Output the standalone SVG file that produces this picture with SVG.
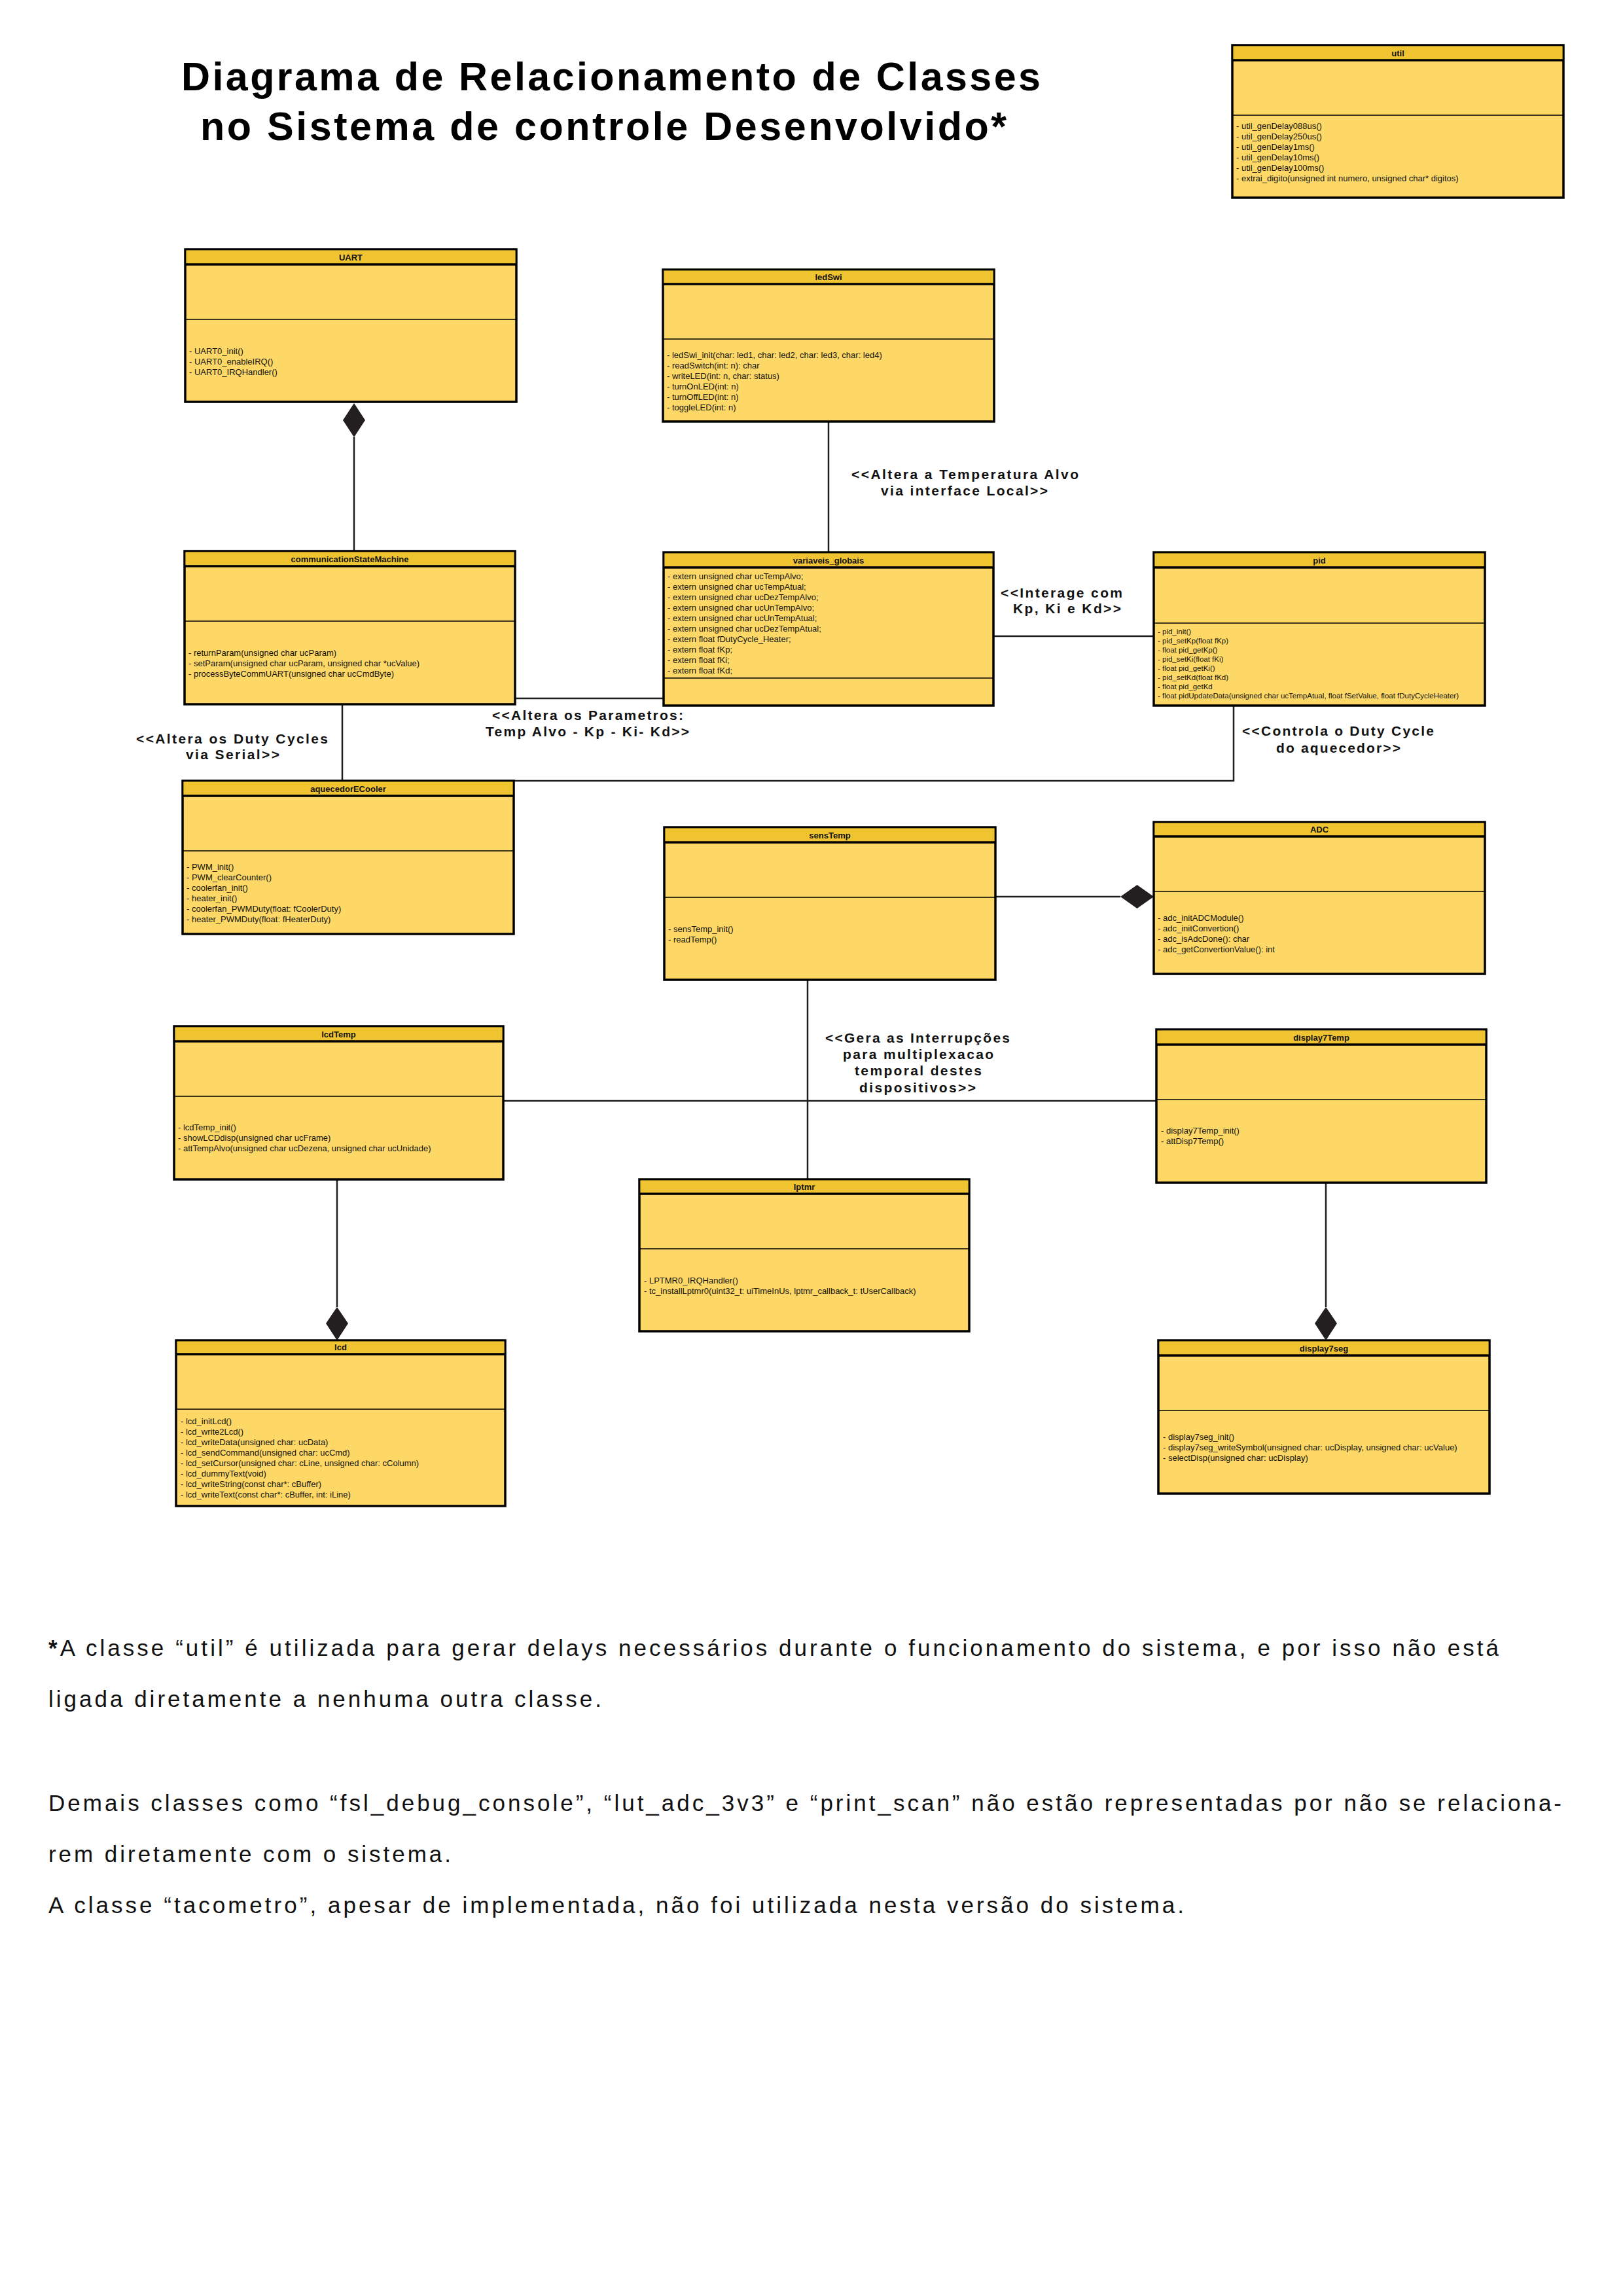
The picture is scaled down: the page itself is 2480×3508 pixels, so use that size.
<svg xmlns="http://www.w3.org/2000/svg" width="2480" height="3508" viewBox="0 0 2480 3508">
<style>
.box{fill:#FDD866;stroke:#000;stroke-width:3.5}
.hdr{fill:#F0C330}
.hl{stroke:#000;stroke-width:3.5}
.dv{stroke:#000;stroke-width:1.6}
.ttl{font-family:"Liberation Sans",Arial,sans-serif;font-size:13px;font-weight:bold;text-anchor:middle;fill:#111}
.m{font-family:"Liberation Sans",Arial,sans-serif;font-size:13px;fill:#111}
.ms{font-family:"Liberation Sans",Arial,sans-serif;font-size:11.5px;fill:#111}
.lbl{font-family:"Liberation Sans",Arial,sans-serif;font-size:21px;font-weight:bold;fill:#111}
.title{font-family:"Liberation Sans",Arial,sans-serif;font-size:61px;font-weight:bold;fill:#000}
.foot{font-family:"Liberation Sans",Arial,sans-serif;font-size:35px;fill:#111}
.c{fill:none;stroke:#1e1e1e;stroke-width:2.5}
.dia{fill:#231f20}
</style>
<rect width="2480" height="3508" fill="#fff"/>

<g id="title">
<text class="title" x="277" y="138" textLength="1313" lengthAdjust="spacing">Diagrama de Relacionamento de Classes</text>
<text class="title" x="306" y="214" textLength="1232" lengthAdjust="spacing">no Sistema de controle Desenvolvido*</text>
</g>

<g id="connectors">
<line class="c" x1="541" y1="668" x2="541" y2="842"/>
<polygon class="dia" points="541,616 558,642 541,668 524,642"/>
<line class="c" x1="1266" y1="644" x2="1266" y2="844"/>
<line class="c" x1="787" y1="1067" x2="1014" y2="1067"/>
<line class="c" x1="1518" y1="972" x2="1763" y2="972"/>
<line class="c" x1="523" y1="1076" x2="523" y2="1193"/>
<polyline class="c" points="1885,1078 1885,1193 785,1193"/>
<line class="c" x1="1521" y1="1370" x2="1712" y2="1370"/>
<polygon class="dia" points="1712,1370 1737.5,1352 1763,1370 1737.5,1388"/>
<line class="c" x1="769" y1="1682" x2="1767" y2="1682"/>
<line class="c" x1="1234" y1="1497" x2="1234" y2="1802"/>
<line class="c" x1="515" y1="1802" x2="515" y2="1997"/>
<polygon class="dia" points="515,1997 532,2022 515,2048 498,2022"/>
<line class="c" x1="2026" y1="1807" x2="2026" y2="1997"/>
<polygon class="dia" points="2026,1997 2043,2022 2026,2048 2009,2022"/>
</g>

<g id="labels">
<text class="lbl" x="1301" y="732" textLength="347" lengthAdjust="spacing">&lt;&lt;Altera a Temperatura Alvo</text>
<text class="lbl" x="1346" y="757" textLength="255" lengthAdjust="spacing">via interface Local&gt;&gt;</text>
<text class="lbl" x="1529" y="913" textLength="186" lengthAdjust="spacing">&lt;&lt;Interage com</text>
<text class="lbl" x="1548" y="937" textLength="165" lengthAdjust="spacing">Kp, Ki e Kd&gt;&gt;</text>
<text class="lbl" x="752" y="1100" textLength="292" lengthAdjust="spacing">&lt;&lt;Altera os Parametros:</text>
<text class="lbl" x="742" y="1125" textLength="311" lengthAdjust="spacing">Temp Alvo - Kp - Ki- Kd&gt;&gt;</text>
<text class="lbl" x="208" y="1136" textLength="293" lengthAdjust="spacing">&lt;&lt;Altera os Duty Cycles</text>
<text class="lbl" x="284" y="1160" textLength="143" lengthAdjust="spacing">via Serial&gt;&gt;</text>
<text class="lbl" x="1898" y="1124" textLength="293" lengthAdjust="spacing">&lt;&lt;Controla o Duty Cycle</text>
<text class="lbl" x="1950" y="1150" textLength="190" lengthAdjust="spacing">do aquecedor&gt;&gt;</text>
<text class="lbl" x="1261" y="1593" textLength="282" lengthAdjust="spacing">&lt;&lt;Gera as Interrupções</text>
<text class="lbl" x="1288" y="1618" textLength="230" lengthAdjust="spacing">para multiplexacao</text>
<text class="lbl" x="1306" y="1643" textLength="194" lengthAdjust="spacing">temporal destes</text>
<text class="lbl" x="1313" y="1669" textLength="178" lengthAdjust="spacing">dispositivos&gt;&gt;</text>
</g>

<g id="util">
<rect class="box" x="1883" y="69" width="506" height="233"/>
<rect class="hdr" x="1884.5" y="70.5" width="503" height="21.5"/>
<line class="hl" x1="1883" y1="92" x2="2389" y2="92"/>
<line class="dv" x1="1883" y1="176" x2="2389" y2="176"/>
<text class="ttl" x="2136" y="86">util</text>
<text class="m" x="1889" y="197">- util_genDelay088us()</text>
<text class="m" x="1889" y="213">- util_genDelay250us()</text>
<text class="m" x="1889" y="229">- util_genDelay1ms()</text>
<text class="m" x="1889" y="245">- util_genDelay10ms()</text>
<text class="m" x="1889" y="261">- util_genDelay100ms()</text>
<text class="m" x="1889" y="277">- extrai_digito(unsigned int numero, unsigned char* digitos)</text>
</g>

<g id="UART">
<rect class="box" x="283" y="381" width="506" height="233"/>
<rect class="hdr" x="284.5" y="382.5" width="503" height="21.5"/>
<line class="hl" x1="283" y1="404" x2="789" y2="404"/>
<line class="dv" x1="283" y1="488" x2="789" y2="488"/>
<text class="ttl" x="536" y="398">UART</text>
<text class="m" x="289" y="541">- UART0_init()</text>
<text class="m" x="289" y="557">- UART0_enableIRQ()</text>
<text class="m" x="289" y="573">- UART0_IRQHandler()</text>
</g>

<g id="ledSwi">
<rect class="box" x="1013" y="412" width="506" height="232"/>
<rect class="hdr" x="1014.5" y="413.5" width="503" height="20.5"/>
<line class="hl" x1="1013" y1="434" x2="1519" y2="434"/>
<line class="dv" x1="1013" y1="518" x2="1519" y2="518"/>
<text class="ttl" x="1266" y="428">ledSwi</text>
<text class="m" x="1019" y="547">- ledSwi_init(char: led1, char: led2, char: led3, char: led4)</text>
<text class="m" x="1019" y="563">- readSwitch(int: n): char</text>
<text class="m" x="1019" y="579">- writeLED(int: n, char: status)</text>
<text class="m" x="1019" y="595">- turnOnLED(int: n)</text>
<text class="m" x="1019" y="611">- turnOffLED(int: n)</text>
<text class="m" x="1019" y="627">- toggleLED(int: n)</text>
</g>

<g id="communicationStateMachine">
<rect class="box" x="282" y="842" width="505" height="234"/>
<rect class="hdr" x="283.5" y="843.5" width="502" height="21.5"/>
<line class="hl" x1="282" y1="865" x2="787" y2="865"/>
<line class="dv" x1="282" y1="949" x2="787" y2="949"/>
<text class="ttl" x="534.5" y="859">communicationStateMachine</text>
<text class="m" x="288" y="1002">- returnParam(unsigned char ucParam)</text>
<text class="m" x="288" y="1018">- setParam(unsigned char ucParam, unsigned char *ucValue)</text>
<text class="m" x="288" y="1034">- processByteCommUART(unsigned char ucCmdByte)</text>
</g>

<g id="variaveis_globais">
<rect class="box" x="1014" y="844" width="504" height="234"/>
<rect class="hdr" x="1015.5" y="845.5" width="501" height="21.5"/>
<line class="hl" x1="1014" y1="867" x2="1518" y2="867"/>
<line class="dv" x1="1014" y1="1036" x2="1518" y2="1036"/>
<text class="ttl" x="1266" y="861">variaveis_globais</text>
<text class="m" x="1020" y="885">- extern unsigned char ucTempAlvo;</text>
<text class="m" x="1020" y="901">- extern unsigned char ucTempAtual;</text>
<text class="m" x="1020" y="917">- extern unsigned char ucDezTempAlvo;</text>
<text class="m" x="1020" y="933">- extern unsigned char ucUnTempAlvo;</text>
<text class="m" x="1020" y="949">- extern unsigned char ucUnTempAtual;</text>
<text class="m" x="1020" y="965">- extern unsigned char ucDezTempAtual;</text>
<text class="m" x="1020" y="981">- extern float fDutyCycle_Heater;</text>
<text class="m" x="1020" y="997">- extern float fKp;</text>
<text class="m" x="1020" y="1013">- extern float fKi;</text>
<text class="m" x="1020" y="1029">- extern float fKd;</text>
</g>

<g id="pid">
<rect class="box" x="1763" y="844" width="506" height="234"/>
<rect class="hdr" x="1764.5" y="845.5" width="503" height="21.5"/>
<line class="hl" x1="1763" y1="867" x2="2269" y2="867"/>
<line class="dv" x1="1763" y1="952" x2="2269" y2="952"/>
<text class="ttl" x="2016" y="861">pid</text>
<text class="ms" x="1769" y="969">- pid_init()</text>
<text class="ms" x="1769" y="983">- pid_setKp(float fKp)</text>
<text class="ms" x="1769" y="997">- float pid_getKp()</text>
<text class="ms" x="1769" y="1011">- pid_setKi(float fKi)</text>
<text class="ms" x="1769" y="1025">- float pid_getKi()</text>
<text class="ms" x="1769" y="1039">- pid_setKd(float fKd)</text>
<text class="ms" x="1769" y="1053">- float pid_getKd</text>
<text class="ms" x="1769" y="1067">- float pidUpdateData(unsigned char ucTempAtual, float fSetValue, float fDutyCycleHeater)</text>
</g>

<g id="aquecedorECooler">
<rect class="box" x="279" y="1193" width="506" height="234"/>
<rect class="hdr" x="280.5" y="1194.5" width="503" height="21.5"/>
<line class="hl" x1="279" y1="1216" x2="785" y2="1216"/>
<line class="dv" x1="279" y1="1300" x2="785" y2="1300"/>
<text class="ttl" x="532" y="1210">aquecedorECooler</text>
<text class="m" x="285" y="1329">- PWM_init()</text>
<text class="m" x="285" y="1345">- PWM_clearCounter()</text>
<text class="m" x="285" y="1361">- coolerfan_init()</text>
<text class="m" x="285" y="1377">- heater_init()</text>
<text class="m" x="285" y="1393">- coolerfan_PWMDuty(float: fCoolerDuty)</text>
<text class="m" x="285" y="1409">- heater_PWMDuty(float: fHeaterDuty)</text>
</g>

<g id="sensTemp">
<rect class="box" x="1015" y="1264" width="506" height="233"/>
<rect class="hdr" x="1016.5" y="1265.5" width="503" height="21.5"/>
<line class="hl" x1="1015" y1="1287" x2="1521" y2="1287"/>
<line class="dv" x1="1015" y1="1371" x2="1521" y2="1371"/>
<text class="ttl" x="1268" y="1281">sensTemp</text>
<text class="m" x="1021" y="1424">- sensTemp_init()</text>
<text class="m" x="1021" y="1440">- readTemp()</text>
</g>

<g id="ADC">
<rect class="box" x="1763" y="1256" width="506" height="232"/>
<rect class="hdr" x="1764.5" y="1257.5" width="503" height="20.5"/>
<line class="hl" x1="1763" y1="1278" x2="2269" y2="1278"/>
<line class="dv" x1="1763" y1="1362" x2="2269" y2="1362"/>
<text class="ttl" x="2016" y="1272">ADC</text>
<text class="m" x="1769" y="1407">- adc_initADCModule()</text>
<text class="m" x="1769" y="1423">- adc_initConvertion()</text>
<text class="m" x="1769" y="1439">- adc_isAdcDone(): char</text>
<text class="m" x="1769" y="1455">- adc_getConvertionValue(): int</text>
</g>

<g id="lcdTemp">
<rect class="box" x="266" y="1568" width="503" height="234"/>
<rect class="hdr" x="267.5" y="1569.5" width="500" height="21.5"/>
<line class="hl" x1="266" y1="1591" x2="769" y2="1591"/>
<line class="dv" x1="266" y1="1675" x2="769" y2="1675"/>
<text class="ttl" x="517.5" y="1585">lcdTemp</text>
<text class="m" x="272" y="1727">- lcdTemp_init()</text>
<text class="m" x="272" y="1743">- showLCDdisp(unsigned char ucFrame)</text>
<text class="m" x="272" y="1759">- attTempAlvo(unsigned char ucDezena, unsigned char ucUnidade)</text>
</g>

<g id="display7Temp">
<rect class="box" x="1767" y="1573" width="504" height="234"/>
<rect class="hdr" x="1768.5" y="1574.5" width="501" height="21.5"/>
<line class="hl" x1="1767" y1="1596" x2="2271" y2="1596"/>
<line class="dv" x1="1767" y1="1680" x2="2271" y2="1680"/>
<text class="ttl" x="2019" y="1590">display7Temp</text>
<text class="m" x="1774" y="1732">- display7Temp_init()</text>
<text class="m" x="1774" y="1748">- attDisp7Temp()</text>
</g>

<g id="lptmr">
<rect class="box" x="977" y="1802" width="504" height="232"/>
<rect class="hdr" x="978.5" y="1803.5" width="501" height="20.5"/>
<line class="hl" x1="977" y1="1824" x2="1481" y2="1824"/>
<line class="dv" x1="977" y1="1908" x2="1481" y2="1908"/>
<text class="ttl" x="1229" y="1818">lptmr</text>
<text class="m" x="984" y="1961">- LPTMR0_IRQHandler()</text>
<text class="m" x="984" y="1977">- tc_installLptmr0(uint32_t: uiTimeInUs, lptmr_callback_t: tUserCallback)</text>
</g>

<g id="lcd">
<rect class="box" x="269" y="2048" width="503" height="253"/>
<rect class="hdr" x="270.5" y="2049.5" width="500" height="19.5"/>
<line class="hl" x1="269" y1="2069" x2="772" y2="2069"/>
<line class="dv" x1="269" y1="2153" x2="772" y2="2153"/>
<text class="ttl" x="520.5" y="2063">lcd</text>
<text class="m" x="276" y="2176">- lcd_initLcd()</text>
<text class="m" x="276" y="2192">- lcd_write2Lcd()</text>
<text class="m" x="276" y="2208">- lcd_writeData(unsigned char: ucData)</text>
<text class="m" x="276" y="2224">- lcd_sendCommand(unsigned char: ucCmd)</text>
<text class="m" x="276" y="2240">- lcd_setCursor(unsigned char: cLine, unsigned char: cColumn)</text>
<text class="m" x="276" y="2256">- lcd_dummyText(void)</text>
<text class="m" x="276" y="2272">- lcd_writeString(const char*: cBuffer)</text>
<text class="m" x="276" y="2288">- lcd_writeText(const char*: cBuffer, int: iLine)</text>
</g>

<g id="display7seg">
<rect class="box" x="1770" y="2048" width="506" height="234"/>
<rect class="hdr" x="1771.5" y="2049.5" width="503" height="21.5"/>
<line class="hl" x1="1770" y1="2071" x2="2276" y2="2071"/>
<line class="dv" x1="1770" y1="2155" x2="2276" y2="2155"/>
<text class="ttl" x="2023" y="2065">display7seg</text>
<text class="m" x="1777" y="2200">- display7seg_init()</text>
<text class="m" x="1777" y="2216">- display7seg_writeSymbol(unsigned char: ucDisplay,  unsigned char: ucValue)</text>
<text class="m" x="1777" y="2232">- selectDisp(unsigned char: ucDisplay)</text>
</g>

<g id="footnote">
<text class="foot" x="74" y="2530" textLength="2216" lengthAdjust="spacing"><tspan font-weight="bold">*</tspan>A classe “util” é utilizada para gerar delays necessários durante o funcionamento do sistema, e por isso não está</text>
<text class="foot" x="74" y="2608" textLength="845" lengthAdjust="spacing">ligada diretamente a nenhuma outra classe.</text>
<text class="foot" x="74" y="2767" textLength="2312" lengthAdjust="spacing">Demais classes como “fsl_debug_console”, “lut_adc_3v3” e “print_scan” não estão representadas por não se relaciona-</text>
<text class="foot" x="74" y="2845" textLength="615" lengthAdjust="spacing">rem diretamente com o sistema.</text>
<text class="foot" x="74" y="2923" textLength="1735" lengthAdjust="spacing">A classe “tacometro”, apesar de implementada, não foi utilizada nesta versão do sistema.</text>
</g>
</svg>
